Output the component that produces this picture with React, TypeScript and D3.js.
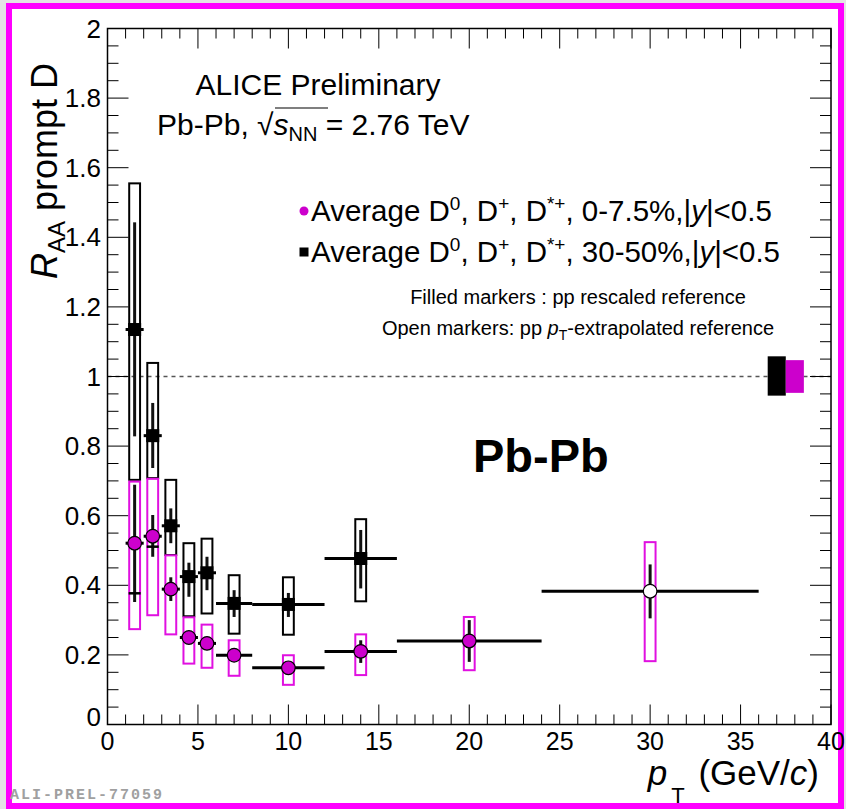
import React from "react";
import * as d3 from "d3";

// ---------- data ----------
const binLow = [1, 2, 3, 4, 5, 6, 8, 12, 16, 24];
const binHigh = [2, 3, 4, 5, 6, 8, 12, 16, 24, 36];
const binCenter = [1.5, 2.5, 3.5, 4.5, 5.5, 7, 10, 14, 20, 30];

// 0-7.5% central (magenta)
const centralRaa = [0.521, 0.541, 0.389, 0.25, 0.233, 0.199, 0.163, 0.21, 0.24, 0.383];
const centralStatLo = [0.352, 0.482, 0.355, 0.232, 0.216, 0.184, 0.148, 0.177, 0.18, 0.305];
const centralStatHi = [0.689, 0.602, 0.423, 0.268, 0.25, 0.214, 0.178, 0.242, 0.3, 0.46];
const centralSysLo = [0.274, 0.314, 0.259, 0.175, 0.163, 0.14, 0.114, 0.142, 0.156, 0.182];
const centralSysHi = [0.698, 0.706, 0.486, 0.308, 0.287, 0.242, 0.199, 0.259, 0.309, 0.524];
const centralOpen = [false, false, false, false, false, false, false, false, false, true];

// 30-50% semi-central (black), first 8 bins
const semiRaa = [1.135, 0.83, 0.571, 0.425, 0.436, 0.348, 0.345, 0.477];
const semiStatLo = [0.828, 0.737, 0.521, 0.367, 0.386, 0.309, 0.309, 0.391];
const semiStatHi = [1.443, 0.924, 0.621, 0.465, 0.482, 0.386, 0.378, 0.559];
const semiSysLo = [0.703, 0.708, 0.487, 0.311, 0.319, 0.261, 0.258, 0.354];
const semiSysHi = [1.555, 1.039, 0.703, 0.521, 0.534, 0.429, 0.423, 0.59];

// extra small horizontal marks
const markPt = [1.5, 2.5];
const markVal = [0.377, 0.511];

// normalisation uncertainty boxes at R_AA = 1
const normPtLo = [36.5, 37.5];
const normPtHi = [37.5, 38.5];
const normLo = [0.945, 0.953];
const normHi = [1.058, 1.047];

const xTicks = [0, 5, 10, 15, 20, 25, 30, 35, 40];
const yTicks = [0, 0.2, 0.4, 0.6, 0.8, 1, 1.2, 1.4, 1.6, 1.8, 2];

const MAG = "#cc00cc";
const FONT = "'Liberation Sans', Arial, Helvetica, sans-serif";

function Legend({ y, label }: { y: number; label: string }) {
  return (
    <text x={311} y={y} fontSize={29.5}>
      Average D<tspan fontSize={19} dy={-11}>0</tspan>
      <tspan dy={11}>, D</tspan>
      <tspan fontSize={19} dy={-11}>+</tspan>
      <tspan dy={11}>, D</tspan>
      <tspan fontSize={19} dy={-11}>*+</tspan>
      <tspan dy={11}>{", " + label + ",|"}</tspan>
      <tspan fontStyle="italic">y</tspan>
      <tspan>|&lt;0.5</tspan>
    </text>
  );
}

export default function App() {
  const W = 846, H = 809;
  const x = d3.scaleLinear().domain([0, 40]).range([107.5, 831]);
  const y = d3.scaleLinear().domain([0, 2]).range([724.5, 28.5]);
  const x0 = x(0), x1 = x(40), y0 = y(0), y1 = y(2);
  const boxHalf = 0.3;

  const xMinor = d3.range(0, 40.001, 1);
  const yMinor = d3.range(0, 2.0001, 0.05);

  const norm = normPtLo.map((_, i) => ({
    x0: x(normPtLo[i]), x1: x(normPtHi[i]), y0: y(normHi[i]), y1: y(normLo[i]),
    fill: i === 0 ? "#000" : MAG,
  }));

  return (
    <svg width={W} height={H} style={{ position: "absolute", left: 0, top: 0, display: "block" }} fontFamily={FONT}>
      <rect x={0} y={0} width={W} height={H} fill="#e4e4e4" />
      <rect x={6} y={3} width={838} height={812} fill="#ff00ff" />
      <rect x={12} y={9} width={826} height={794} fill="#fff" />

      {/* dashed line at 1 */}
      <line x1={x0} x2={x1} y1={y(1)} y2={y(1)} stroke="#555" strokeWidth={1.3} strokeDasharray="4,4" />

      {/* ticks */}
      {xMinor.map((v) => {
        const major = Math.abs(v % 5) < 1e-6;
        const L = major ? 20 : 10;
        return (
          <g key={"xt" + v}>
            <line x1={x(v)} x2={x(v)} y1={y0} y2={y0 - L} stroke="#000" strokeWidth={1} />
            <line x1={x(v)} x2={x(v)} y1={y1} y2={y1 + L} stroke="#000" strokeWidth={1} />
          </g>
        );
      })}
      {yMinor.map((v, i) => {
        const major = i % 4 === 0;
        const L = major ? 21 : 11;
        return (
          <g key={"yt" + i}>
            <line x1={x0} x2={x0 + L} y1={y(v)} y2={y(v)} stroke="#000" strokeWidth={1} />
            <line x1={x1} x2={x1 - L} y1={y(v)} y2={y(v)} stroke="#000" strokeWidth={1} />
          </g>
        );
      })}
      <rect x={x0} y={y1} width={x1 - x0} height={y0 - y1} fill="none" stroke="#000" strokeWidth={1.5} />

      {/* tick labels */}
      {xTicks.map((v) => (
        <text key={"xl" + v} x={x(v)} y={750} fontSize={25} textAnchor="middle">{v}</text>
      ))}
      {yTicks.map((v) => (
        <text key={"yl" + v} x={101} y={v === 0 ? y(v) + 1 : y(v) + 9} fontSize={26} textAnchor="end">{d3.format("~g")(v)}</text>
      ))}

      {/* normalisation boxes */}
      {norm.map((b, i) => (
        <rect key={"n" + i} x={b.x0} y={b.y0} width={b.x1 - b.x0} height={b.y1 - b.y0} fill={b.fill} />
      ))}

      {/* systematic boxes */}
      {semiRaa.map((_, i) => (
        <rect key={"sb" + i} x={x(binCenter[i] - boxHalf)} y={y(semiSysHi[i])} width={x(binCenter[i] + boxHalf) - x(binCenter[i] - boxHalf)} height={y(semiSysLo[i]) - y(semiSysHi[i])} fill="none" stroke="#000" strokeWidth={2} />
      ))}
      {centralRaa.map((_, i) => (
        <rect key={"cb" + i} x={x(binCenter[i] - boxHalf)} y={y(centralSysHi[i])} width={x(binCenter[i] + boxHalf) - x(binCenter[i] - boxHalf)} height={y(centralSysLo[i]) - y(centralSysHi[i])} fill="none" stroke="#e010e0" strokeWidth={2} />
      ))}

      {/* error bars */}
      {semiRaa.map((v, i) => (
        <g key={"se" + i}>
          <line x1={x(binLow[i])} x2={x(binHigh[i])} y1={y(v)} y2={y(v)} stroke="#000" strokeWidth={3} />
          <line x1={x(binCenter[i])} x2={x(binCenter[i])} y1={y(semiStatLo[i])} y2={y(semiStatHi[i])} stroke="#111" strokeWidth={3} />
        </g>
      ))}
      {centralRaa.map((v, i) => (
        <g key={"ce" + i}>
          <line x1={x(binLow[i])} x2={x(binHigh[i])} y1={y(v)} y2={y(v)} stroke="#000" strokeWidth={3} />
          <line x1={x(binCenter[i])} x2={x(binCenter[i])} y1={y(centralStatLo[i])} y2={y(centralStatHi[i])} stroke="#111" strokeWidth={3} />
        </g>
      ))}
      {markPt.map((p, i) => (
        <line key={"mk" + i} x1={x(p) - 6} x2={x(p) + 6} y1={y(markVal[i])} y2={y(markVal[i])} stroke="#000" strokeWidth={2.5} />
      ))}

      {/* markers */}
      {semiRaa.map((v, i) => (
        <rect key={"sm" + i} x={x(binCenter[i]) - 6.5} y={y(v) - 6.5} width={13} height={13} fill="#000" />
      ))}
      {centralRaa.map((v, i) => (
        <circle key={"cm" + i} cx={x(binCenter[i])} cy={y(v)} r={6.8} fill={centralOpen[i] ? "#fff" : MAG} stroke="#000" strokeWidth={1.2} />
      ))}

      {/* texts */}
      <text x={318} y={95} fontSize={30} textAnchor="middle">ALICE Preliminary</text>
      <text x={157} y={135} fontSize={30}>
        Pb-Pb, √<tspan fontStyle="italic">s</tspan>
        <tspan fontSize={20} dy={6}>NN</tspan>
        <tspan dy={-6}> = 2.76 TeV</tspan>
      </text>
      <line x1={275} x2={328} y1={108} y2={108} stroke="#000" strokeWidth={1.2} />

      <circle cx={304} cy={211} r={4.5} fill={MAG} />
      <Legend y={221} label="0-7.5%" />
      <rect x={299.5} y={247.5} width={9} height={9} fill="#000" />
      <Legend y={262} label="30-50%" />

      <text x={578} y={304} fontSize={20} textAnchor="middle">Filled markers : pp rescaled reference</text>
      <text x={578} y={335} fontSize={20} textAnchor="middle">
        Open markers: pp <tspan fontStyle="italic">p</tspan>
        <tspan fontSize={14} dy={5}>T</tspan>
        <tspan dy={-5}>-extrapolated reference</tspan>
      </text>

      <text x={473} y={472} fontSize={47} fontWeight="bold">Pb-Pb</text>

      <text transform="translate(57,279) rotate(-90)" fontSize={36}>
        <tspan fontStyle="italic">R</tspan>
        <tspan fontSize={24} dy={8}>AA</tspan>
        <tspan dy={-8}> prompt D</tspan>
      </text>

      <text x={819} y={785} fontSize={35} textAnchor="end">
        <tspan fontStyle="italic">p</tspan>
        <tspan fontSize={22} dx={4} dy={18}>T</tspan>
        <tspan dx={4} dy={-18}> (GeV/</tspan>
        <tspan fontStyle="italic">c</tspan>
        <tspan>)</tspan>
      </text>

      <text x={10} y={799} fontSize={15} letterSpacing={2} fontWeight="bold" fill="#a0a0a0" fontFamily="'Liberation Mono', 'DejaVu Sans Mono', monospace">ALI-PREL-77059</text>
    </svg>
  );
}
